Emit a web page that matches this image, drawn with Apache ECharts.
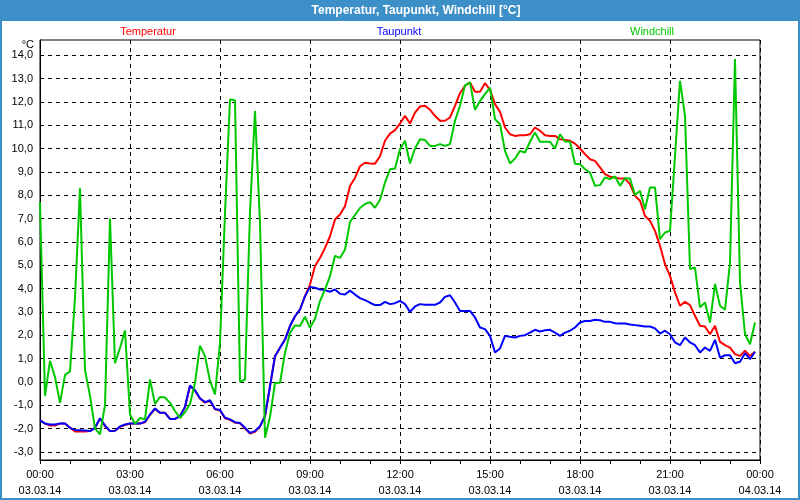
<!DOCTYPE html>
<html>
<head>
<meta charset="utf-8">
<script src="https://cdn.jsdelivr.net/npm/echarts@6/dist/echarts.min.js"></script>
<style>
html,body{margin:0;padding:0;background:#fff;}
#chart{width:800px;height:500px;}
</style>
</head>
<body>
<div id="chart"></div>
<script>
// ---- data (10-minute readings, 03.03.14) ----
const titleText = 'Temperatur, Taupunkt, Windchill [°C]';
const seriesNames = ['Temperatur', 'Taupunkt', 'Windchill'];
const yTicks = [-3,-2,-1,0,1,2,3,4,5,6,7,8,9,10,11,12,13,14];

const temperatur = [
-1.64,-1.79,-1.87,-1.87,-1.79,-1.79,-1.97,-2.13,-2.13,-2.13,-2.11,-1.97,-1.58,-1.90,-2.11,-2.10,-1.93,-1.85,
-1.79,-1.79,-1.79,-1.73,-1.42,-1.16,-1.33,-1.33,-1.59,-1.59,-1.47,-1.09,-0.18,-0.38,-0.72,-0.89,-0.81,-1.18,
-1.23,-1.56,-1.63,-1.75,-1.78,-2.00,-2.22,-2.14,-1.92,-1.47,-0.19,1.10,1.46,1.81,2.39,2.81,3.10,3.67,
4.17,4.96,5.31,5.74,6.24,6.96,7.17,7.53,8.39,8.74,9.24,9.39,9.36,9.35,9.67,10.33,10.64,10.79,
11.07,11.40,11.07,11.54,11.80,11.83,11.66,11.40,11.19,11.19,11.33,11.83,12.37,12.69,12.83,12.43,12.43,12.80,
12.51,11.90,11.57,10.90,10.61,10.54,10.57,10.57,10.61,10.90,10.76,10.57,10.54,10.54,10.40,10.37,10.33,10.21,
10.00,9.76,9.54,9.47,9.19,8.90,8.79,8.76,8.71,8.71,8.47,7.97,7.76,7.11,6.90,6.47,5.83,5.04,
4.54,3.83,3.26,3.43,3.29,2.83,2.40,2.37,2.04,2.40,1.71,1.57,1.47,1.19,1.11,1.33,1.11,1.29
];
const taupunkt = [
-1.64,-1.79,-1.83,-1.83,-1.79,-1.79,-1.97,-2.06,-2.07,-2.09,-2.11,-1.97,-1.56,-1.87,-2.11,-2.10,-1.91,-1.83,
-1.79,-1.79,-1.79,-1.71,-1.40,-1.14,-1.33,-1.33,-1.59,-1.59,-1.47,-1.07,-0.16,-0.36,-0.70,-0.87,-0.79,-1.16,
-1.21,-1.54,-1.61,-1.73,-1.76,-1.97,-2.19,-2.11,-1.90,-1.47,-0.19,1.10,1.46,1.81,2.39,2.81,3.10,3.67,
4.07,4.03,3.96,3.93,3.86,3.96,3.77,3.74,3.91,3.74,3.59,3.50,3.39,3.29,3.29,3.43,3.33,3.37,
3.47,3.33,3.00,3.23,3.33,3.30,3.30,3.30,3.40,3.64,3.71,3.40,3.04,3.04,3.04,2.76,2.33,2.26,
1.97,1.26,1.43,1.97,1.93,1.90,1.97,2.00,2.11,2.23,2.16,2.21,2.23,2.11,1.97,2.11,2.19,2.33,
2.54,2.61,2.61,2.66,2.64,2.57,2.57,2.51,2.50,2.50,2.46,2.43,2.40,2.37,2.37,2.29,2.07,2.19,
2.04,1.69,1.57,1.90,1.69,1.57,1.26,1.47,1.33,1.80,1.04,1.14,1.14,0.80,0.86,1.23,0.97,1.29
];
const windchill = [
7.70,-0.60,0.90,0.20,-0.90,0.30,0.45,3.60,8.30,0.50,-0.60,-2.00,-2.25,-1.00,7.00,0.80,1.45,2.20,
-1.40,-1.80,-1.55,-1.60,0.10,-0.95,-0.65,-0.67,-0.90,-1.25,-1.55,-1.30,-0.95,-0.05,1.55,1.10,0.03,-0.54,
1.67,7.24,12.10,12.07,0.00,0.10,7.30,11.60,6.80,-2.40,-1.50,-0.05,-0.04,1.24,2.10,2.42,2.39,2.79,
2.31,2.70,3.46,3.96,4.53,5.40,5.31,5.67,6.85,7.15,7.45,7.62,7.70,7.46,7.80,8.54,9.11,9.14,
9.97,10.33,9.36,10.00,10.40,10.36,10.11,10.11,10.19,10.11,10.19,11.19,11.83,12.71,12.83,11.66,12.04,12.33,
12.61,11.26,11.04,9.90,9.36,9.57,9.90,9.83,10.29,10.69,10.29,10.29,10.29,10.00,10.61,10.30,10.29,9.35,
9.33,9.11,8.97,8.40,8.43,8.76,8.69,8.80,8.40,8.73,8.71,8.01,8.19,7.40,8.33,8.33,6.11,6.40,
6.47,9.69,12.90,11.40,4.83,4.90,3.19,3.40,2.54,4.19,3.26,3.09,5.11,13.83,4.26,2.04,1.61,2.54
];

// time categories every 10 minutes, 00:00 03.03.14 .. 00:00 04.03.14
const categories = [];
for (let i = 0; i <= 144; i++) {
  const m = i * 10;
  const hh = String(Math.floor(m / 60) % 24).padStart(2, '0');
  const mm = String(m % 60).padStart(2, '0');
  categories.push(hh + ':' + mm + '\n' + (i === 144 ? '04.03.14' : '03.03.14'));
}

const colors = ['#ff0000', '#0000ff', '#00c800'];
const FONT = 'Liberation Sans, Arial, sans-serif';

const chart = echarts.init(document.getElementById('chart'), null, {renderer: 'canvas'});
chart.setOption({
  animation: false,
  backgroundColor: '#ffffff',
  grid: {left: 40, right: 40, top: 40, bottom: 40, show: true, borderColor: '#000', borderWidth: 1, backgroundColor: '#ffffff', containLabel: false},
  xAxis: {
    type: 'category',
    data: categories,
    boundaryGap: false,
    axisLine: {show: true, onZero: false, lineStyle: {color: '#000', width: 1}},
    axisTick: {show: true, interval: 5, length: 4, inside: false, lineStyle: {color: '#000'}},
    axisLabel: {interval: 17, margin: 7, color: '#000', fontFamily: FONT, fontSize: 11, lineHeight: 16},
    splitLine: {show: true, interval: 17, lineStyle: {color: '#000', width: 1, type: [4, 4]}}
  },
  yAxis: {
    type: 'value',
    min: -3.35,
    max: 14.65,
    axisLine: {show: true, onZero: false, lineStyle: {color: '#000', width: 1}},
    axisTick: {show: false, customValues: yTicks},
    axisLabel: {customValues: yTicks, margin: 7, color: '#000', fontFamily: FONT, fontSize: 11,
      formatter: v => Number(v).toFixed(1).replace('.', ',')},
    splitLine: {show: true, lineStyle: {color: '#000', width: 1, type: [4, 4]}}
  },
  series: [
    {name: seriesNames[0], type: 'line', data: temperatur, showSymbol: false, symbol: 'none', lineStyle: {color: colors[0], width: 2}, itemStyle: {color: colors[0]}},
    {name: seriesNames[1], type: 'line', data: taupunkt, showSymbol: false, symbol: 'none', lineStyle: {color: colors[1], width: 2}, itemStyle: {color: colors[1]}},
    {name: seriesNames[2], type: 'line', data: windchill, showSymbol: false, symbol: 'none', lineStyle: {color: colors[2], width: 2}, itemStyle: {color: colors[2]}}
  ],
  graphic: [
    {type: 'rect', left: 0, top: 0, shape: {x: 0, y: 0, width: 800, height: 21}, style: {fill: '#3d8fc8'}, silent: true},
    {type: 'rect', shape: {x: 1, y: 1, width: 798, height: 498}, style: {fill: 'none', stroke: '#3d8fc8', lineWidth: 2}, silent: true},
    {type: 'text', x: 416, y: 11, style: {text: titleText, fill: '#fff', font: 'bold 12px ' + FONT, textAlign: 'center', textVerticalAlign: 'middle'}},
    {type: 'text', x: 148, y: 32, style: {text: seriesNames[0], fill: colors[0], font: '11px ' + FONT, textAlign: 'center', textVerticalAlign: 'middle'}},
    {type: 'text', x: 399, y: 32, style: {text: seriesNames[1], fill: colors[1], font: '11px ' + FONT, textAlign: 'center', textVerticalAlign: 'middle'}},
    {type: 'text', x: 652, y: 32, style: {text: seriesNames[2], fill: colors[2], font: '11px ' + FONT, textAlign: 'center', textVerticalAlign: 'middle'}},
    {type: 'text', x: 34, y: 45, style: {text: '°C', fill: '#000', font: '11px ' + FONT, textAlign: 'right', textVerticalAlign: 'middle'}}
  ]
});
</script>
</body>
</html>
